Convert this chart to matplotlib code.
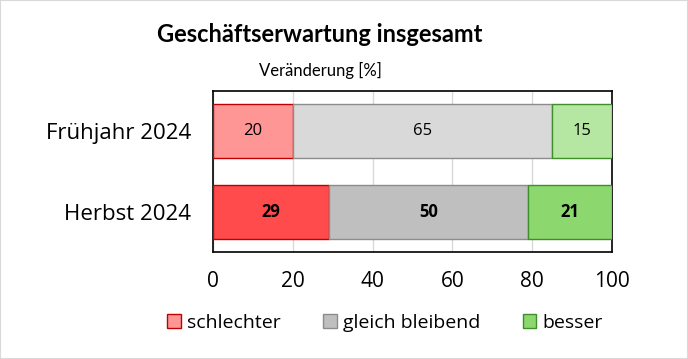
import matplotlib.pyplot as plt
from matplotlib.patches import Patch

periods = ['Herbst 2024', 'Frühjahr 2024']
schlechter = [29, 20]
gleich = [50, 65]
besser = [21, 15]
ticks = [0, 20, 40, 60, 80, 100]
legend_labels = ['schlechter', 'gleich bleibend', 'besser']

plt.rcParams['font.family'] = ['Open Sans', 'DejaVu Sans']

fig = plt.figure(figsize=(6.88, 3.59), dpi=100)
ax = fig.add_axes([0.3096, 0.298, 0.5799, 0.4485])

fills = [['#FF4B4B', '#FF9696'], ['#BFBFBF', '#D9D9D9'], ['#8CD86E', '#B5E6A2']]
edges = [['#C00000', '#C00000'], ['#8C8C8C', '#8C8C8C'], ['#3E8E2A', '#3E8E2A']]
series = [schlechter, gleich, besser]

ypos = [0, 1]
left = [0, 0]
for s, vals in enumerate(series):
    for i, y in enumerate(ypos):
        ax.barh(y, vals[i], left=left[i], height=0.66, color=fills[s][i],
                edgecolor=edges[s][i], linewidth=1.0, zorder=3)
        ax.text(left[i] + vals[i] / 2, y, str(vals[i]), ha='center', va='center',
                fontsize=12, fontweight='bold' if i == 0 else 'normal',
                color='black', zorder=4)
    left = [left[i] + vals[i] for i in range(2)]

ax.set_xlim(0, 100)
ax.set_ylim(-0.49, 1.49)
ax.set_xticks(ticks)
ax.set_xticklabels([str(t) for t in ticks], fontsize=15)
ax.set_yticks(ypos)
ax.set_yticklabels(periods, fontsize=16)
ax.tick_params(axis='both', length=0)
ax.tick_params(axis='x', pad=14)
ax.tick_params(axis='y', pad=16)
ax.grid(axis='x', color='#D9D9D9', linewidth=1, zorder=0)
for sp in ax.spines.values():
    sp.set_color('black')
    sp.set_linewidth(1.2)

fig.text(320 / 688, 0.905, 'Geschäftserwartung insgesamt', ha='center', va='center',
         fontsize=17, fontweight='bold', family=['Lato', 'DejaVu Sans'])
fig.text(320 / 688, 0.805, 'Veränderung [%]', ha='center', va='center', fontsize=12,
         family=['Lato', 'DejaVu Sans'])

handles = [Patch(facecolor='#FF9696', edgecolor='#C00000'),
           Patch(facecolor='#BFBFBF', edgecolor='#8C8C8C'),
           Patch(facecolor='#8CD86E', edgecolor='#3E8E2A')]
fig.legend(handles, legend_labels, loc='center', bbox_to_anchor=(385 / 688, 0.10),
           ncol=3, frameon=False, fontsize=14, handlelength=0.7, handleheight=0.7,
           handletextpad=0.3, columnspacing=2.2)

fig.patches.append(plt.Rectangle((0, 0), 1, 1, transform=fig.transFigure,
                                 fill=False, edgecolor='#D9D9D9', linewidth=1.5))

fig.savefig('out.png', dpi=100)
